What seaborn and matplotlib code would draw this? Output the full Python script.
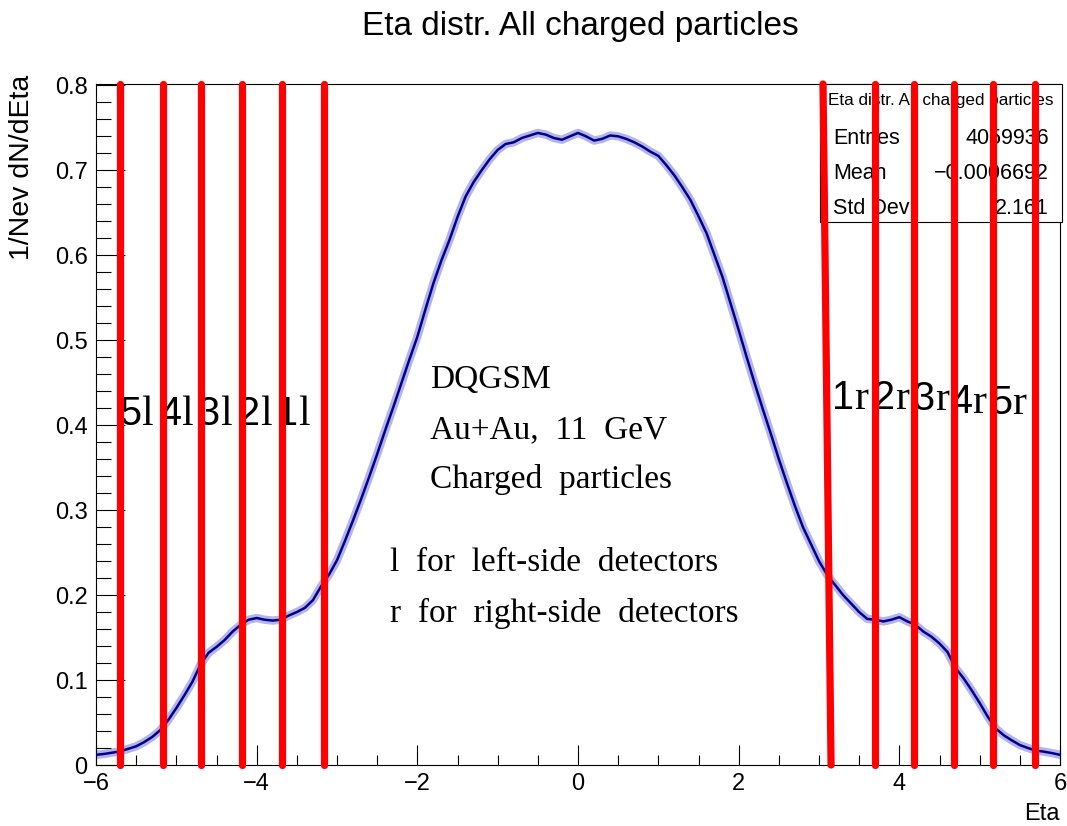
import numpy as np
import pandas as pd
import matplotlib
matplotlib.use("Agg")
import matplotlib.pyplot as plt
from matplotlib.ticker import MultipleLocator, FixedLocator, FixedFormatter
from matplotlib.patches import Rectangle
import seaborn as sns

# ---------------- data ----------------
eta = [round(-6.0 + 0.1 * i, 1) for i in range(121)]
dndeta = [
    0.012, 0.013, 0.0145, 0.016, 0.019, 0.022, 0.027, 0.033, 0.041, 0.053,
    0.067, 0.082, 0.098, 0.118, 0.132, 0.139, 0.147, 0.157, 0.165, 0.171,
    0.173, 0.171, 0.170, 0.171, 0.176, 0.180, 0.185, 0.194, 0.210, 0.224,
    0.241, 0.264, 0.288, 0.313, 0.339, 0.366, 0.394, 0.421, 0.449, 0.477,
    0.504, 0.536, 0.567, 0.594, 0.618, 0.645, 0.669, 0.686, 0.700, 0.713,
    0.724, 0.731, 0.733, 0.738, 0.741, 0.744, 0.742, 0.738, 0.736, 0.740,
    0.744, 0.740, 0.735, 0.737, 0.741, 0.740, 0.737, 0.733, 0.728, 0.722,
    0.717, 0.706, 0.694, 0.680, 0.665, 0.646, 0.626, 0.600, 0.574, 0.543,
    0.512, 0.480, 0.449, 0.419, 0.390, 0.360, 0.332, 0.305, 0.280, 0.260,
    0.240, 0.224, 0.212, 0.200, 0.190, 0.180, 0.172, 0.171, 0.169, 0.171,
    0.174, 0.169, 0.165, 0.157, 0.151, 0.143, 0.133, 0.114, 0.102, 0.088,
    0.073, 0.057, 0.043, 0.035, 0.029, 0.0235, 0.020, 0.017, 0.0157, 0.014,
    0.012,
]

# detector boundary lines (x at bottom, x at top of the frame)
det_x_bottom = [-5.70, -5.16, -4.69, -4.18, -3.69, -3.16, 3.15, 3.70, 4.18, 4.68, 5.16, 5.69]
det_x_top    = [-5.70, -5.16, -4.69, -4.18, -3.69, -3.16, 3.05, 3.70, 4.18, 4.68, 5.16, 5.69]

left_labels = [("5", "l"), ("4", "l"), ("3", "l"), ("2", "l"), ("1", "l")]
right_labels = [("1", "r"), ("2", "r"), ("3", "r"), ("4", "r"), ("5", "r")]

x_ticks = [-6, -4, -2, 0, 2, 4, 6]
x_tick_labels = ["\u22126", "\u22124", "\u22122", "0", "2", "4", "6"]
y_ticks = [0, 0.1, 0.2, 0.3, 0.4, 0.5, 0.6, 0.7, 0.8]
y_tick_labels = ["0", "0.1", "0.2", "0.3", "0.4", "0.5", "0.6", "0.7", "0.8"]

stats_names = ["Entries", "Mean", "Std Dev"]
stats_values = ["4059936", "\u22120.0006692", "2.161"]

title = "Eta distr. All charged particles"
info_lines = ["DQGSM", "Au+Au,  11  GeV", "Charged  particles"]
legend_lines = ["l  for  left-side  detectors", "r  for  right-side  detectors"]

# ---------------- style ----------------
sns.set_style("white")
SANS = ["Liberation Sans Narrow", "Liberation Sans", "DejaVu Sans"]
SANS_REG = ["Liberation Sans", "DejaVu Sans"]
SERIF = ["Liberation Serif", "DejaVu Serif"]
plt.rcParams["font.family"] = SANS
plt.rcParams["text.color"] = "black"
plt.rcParams["axes.labelcolor"] = "black"
plt.rcParams["xtick.color"] = "black"
plt.rcParams["ytick.color"] = "black"

W, H = 1067, 826
fig = plt.figure(figsize=(W / 100, H / 100), dpi=100)

def fx(x):
    return x / W

def fy(y):
    return 1 - y / H

L, R, T, B = 96, 1060, 84, 765
ax = fig.add_axes([fx(L), fy(B), (R - L) / W, (B - T) / H])

df = pd.DataFrame({"eta": eta, "dNdEta": dndeta})
sns.lineplot(data=df, x="eta", y="dNdEta", ax=ax, color="#5a5ac8", linewidth=6.0,
             alpha=0.45, errorbar=None, zorder=2)
sns.lineplot(data=df, x="eta", y="dNdEta", ax=ax, color="#000090", linewidth=1.8,
             errorbar=None, zorder=3)

ax.set_xlim(-6, 6)
ax.set_ylim(0, 0.8016)
ax.set_xlabel("")
ax.set_ylabel("")

ax.xaxis.set_major_locator(FixedLocator(x_ticks))
ax.xaxis.set_major_formatter(FixedFormatter(x_tick_labels))
ax.xaxis.set_minor_locator(MultipleLocator(0.5))
ax.yaxis.set_major_locator(FixedLocator(y_ticks))
ax.yaxis.set_major_formatter(FixedFormatter(y_tick_labels))
ax.yaxis.set_minor_locator(MultipleLocator(0.02))

ax.tick_params(axis="x", which="major", direction="in", length=14.5, width=0.8,
               labelsize=17, pad=6, color="black", labelcolor="black", bottom=True, top=False)
ax.tick_params(axis="x", which="minor", direction="in", length=7.2, width=0.8,
               color="black", bottom=True, top=False)
ax.tick_params(axis="y", which="major", direction="in", length=21, width=0.8,
               labelsize=17, pad=6, color="black", labelcolor="black", left=True, right=False)
ax.tick_params(axis="y", which="minor", direction="in", length=10.5, width=0.8,
               color="black", left=True, right=False)
for s in ax.spines.values():
    s.set_color("black")
    s.set_linewidth(0.8)
    s.set_visible(True)

# stats box
box_l, box_r, box_t, box_b, box_h = 820, 1062, 84, 222, 119
fig.patches.append(Rectangle((fx(box_l), fy(box_b)), (box_r - box_l) / W, (box_b - box_t) / H,
                             transform=fig.transFigure, facecolor="white", edgecolor="black",
                             linewidth=0.8, zorder=4))
fig.lines.append(plt.Line2D([fx(box_l), fx(box_r)], [fy(box_h), fy(box_h)],
                            transform=fig.transFigure, color="black", linewidth=0.8, zorder=4))
fig.text(fx((box_l + box_r) / 2), fy(101), title, ha="center", va="center",
         fontsize=12.3, zorder=5)
for i, (n, v) in enumerate(zip(stats_names, stats_values)):
    yy = 139 + 34.5 * i
    fig.text(fx(833), fy(yy), n, ha="left", va="center", fontsize=15.5, zorder=5)
    fig.text(fx(1049), fy(yy), v, ha="right", va="center", fontsize=15.5, zorder=5)

# detector lines (drawn over everything)
ymax = ax.get_ylim()[1]
for xb, xt in zip(det_x_bottom, det_x_top):
    ln = plt.Line2D([xb, xt], [0, ymax], transform=ax.transData, color="#ff0000",
                    linewidth=5.2, solid_capstyle="round", zorder=10)
    ln.set_clip_on(False)
    fig.lines.append(ln)

# detector labels: digit (sans) + letter (serif), shared baseline
left_px = [141, 181, 220, 260, 298]
right_px = [854, 895, 935, 972, 1012]
right_base = [409, 409, 410, 413, 414]
for (d, c), xp in zip(left_labels, left_px):
    fig.text(fx(xp), fy(425), d, ha="right", va="baseline", fontsize=28.5, zorder=6)
    fig.text(fx(xp), fy(425), c, ha="left", va="baseline", fontsize=30,
             family=SERIF, zorder=6)
for (d, c), xp, yb in zip(right_labels, right_px, right_base):
    fig.text(fx(xp), fy(yb), d, ha="right", va="baseline", fontsize=28.5, zorder=6)
    fig.text(fx(xp), fy(yb), c, ha="left", va="baseline", fontsize=30,
             family=SERIF, zorder=6)

# info text
for i, t in enumerate(info_lines):
    fig.text(fx(430), fy(380 + 50 * i), t, ha="left", va="center", fontsize=24,
             family=SERIF)
for i, t in enumerate(legend_lines):
    fig.text(fx(390), fy(563 + 50 * i), t, ha="left", va="center", fontsize=24,
             family=SERIF)

# titles / axis labels
fig.text(fx(580), fy(26), title, ha="center", va="center", fontsize=24)
fig.text(fx(22), fy(75), "1/Nev dN/dEta", rotation=90, ha="center", va="top",
         fontsize=20.5, family=SANS_REG)
fig.text(fx(1060), fy(814), "Eta", ha="right", va="center", fontsize=17)

fig.savefig("out.png", dpi=100)
